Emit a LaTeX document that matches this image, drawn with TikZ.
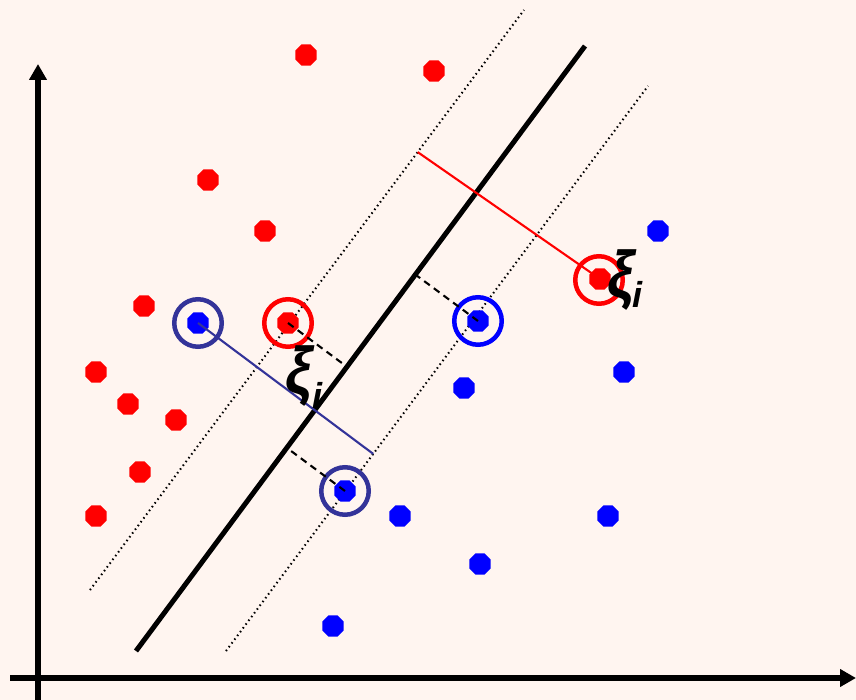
\documentclass[tikz,border=0pt]{standalone}
\usepackage{fontspec}
\newfontfamily\labfont{Liberation Sans}
\usetikzlibrary{arrows.meta,shapes.geometric,calc}
\definecolor{bg}{RGB}{255,245,240}
\definecolor{navy}{RGB}{51,51,153}
\begin{document}
\begin{tikzpicture}[x=1pt,y=-1pt,
  pt/.style={regular polygon,regular polygon sides=8,minimum size=23pt,inner sep=0pt,outer sep=0pt},
  rdot/.style={pt,fill=red},
  bdot/.style={pt,fill=blue},
  ring/.style={circle,draw,line width=4.5pt,minimum size=47.5pt,inner sep=0pt},
  axisline/.style={line width=5.2pt,-{Triangle[length=16pt,width=17pt]}},
  margin/.style={line width=2pt,dash pattern=on 1.5pt off 3.2pt},
  hyper/.style={line width=5pt},
  slack/.style={line width=2.1pt,dash pattern=on 7pt off 5pt},
  errline/.style={line width=2.1pt},
  xilab/.style={font=\labfont\bfseries\itshape\fontsize{66}{66}\selectfont,inner sep=0pt,xscale=0.9},
  ilab/.style={font=\labfont\bfseries\itshape\fontsize{36}{36}\selectfont,inner sep=0pt}]
\fill[bg] (0,0) rectangle (856,700);
\useasboundingbox (0,0) rectangle (856,700);
% axes
\coordinate (yb) at (38,700); \coordinate (yt) at (38,64);
\coordinate (xl) at (10,678); \coordinate (xr) at (856,678);
\draw[axisline] (yb) -- (yt);
\draw[axisline] (xl) -- (xr);
% lines
\coordinate (ha) at (136,651); \coordinate (hb) at (585,46);
\coordinate (la) at (90,590); \coordinate (lb) at (524,10);
\coordinate (ra) at (226,651); \coordinate (rb) at (648,86);
\draw[margin] (la) -- (lb);
\draw[margin] (ra) -- (rb);
\draw[hyper] (ha) -- (hb);
% red points
\node[rdot] (r1) at (306,55) {};
\node[rdot] (r2) at (434,71) {};
\node[rdot] (r3) at (208,180) {};
\node[rdot] (r4) at (265,231) {};
\node[rdot] (r5) at (144,306) {};
\node[rdot] (r6) at (96,372) {};
\node[rdot] (r7) at (128,404) {};
\node[rdot] (r8) at (176,420) {};
\node[rdot] (r9) at (140,472) {};
\node[rdot] (r10) at (96,516) {};
\node[rdot] (rs1) at (288,323) {};
\node[rdot] (rs2) at (600,279) {};
% blue points
\node[bdot] (b1) at (658,231) {};
\node[bdot] (bs1) at (198,323) {};
\node[bdot] (bs2) at (478,321) {};
\node[bdot] (b2) at (464,388) {};
\node[bdot] (b3) at (624,372) {};
\node[bdot] (bs3) at (345,491) {};
\node[bdot] (b4) at (400,516) {};
\node[bdot] (b5) at (608,516) {};
\node[bdot] (b6) at (480,564) {};
\node[bdot] (b7) at (333,626) {};
% rings
\node[ring,draw=red] (c1) at (rs1) {};
\node[ring,draw=red] (c2) at (599,280) {};
\node[ring,draw=blue] (c3) at (bs2) {};
\node[ring,draw=navy] (c4) at (bs1) {};
\node[ring,draw=navy] (c5) at (bs3) {};
% slack connectors
\coordinate (f1) at ($(ha)!(rs1)!(hb)$);
\coordinate (f2) at ($(ha)!(bs2)!(hb)$);
\coordinate (f3) at ($(ha)!(bs3)!(hb)$);
\coordinate (f4) at ($(la)!0.755!(lb)$);
\coordinate (f5) at ($(ra)!(bs1)!(rb)$);
\draw[slack] (rs1.center) -- (f1);
\draw[slack] (bs2.center) -- (f2);
\draw[slack] (bs3.center) -- (f3);
\draw[errline,red] (f4) -- (rs2.center);
\draw[errline,navy] (bs1.center) -- (f5);
% labels
\node[xilab] (xi1) at (299,376) {ξ};
\node[ilab] (i1) at (317,395) {i};
\node[xilab] (xi2) at (621,280) {ξ};
\node[ilab] (i2) at (637,294) {i};
\end{tikzpicture}
\end{document}
